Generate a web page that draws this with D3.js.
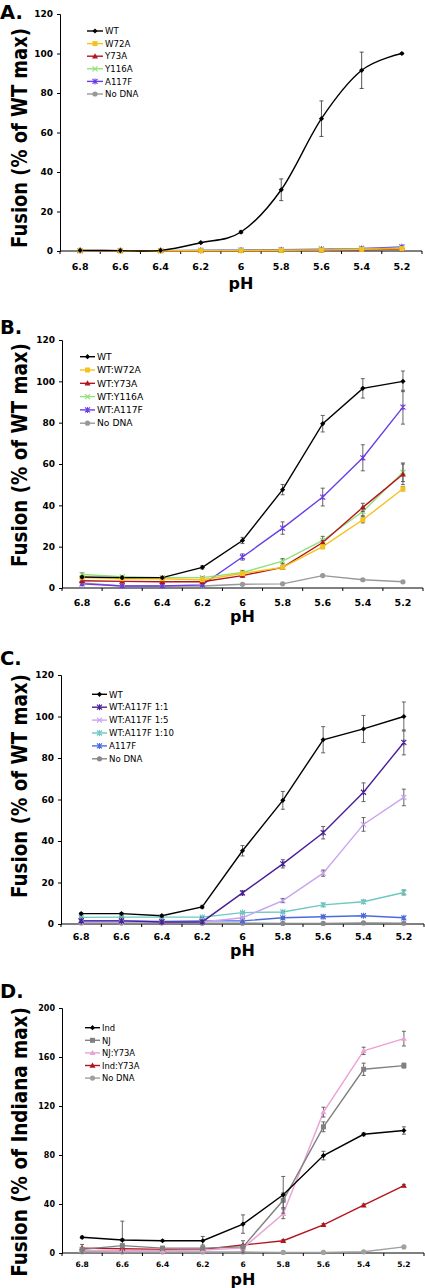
<!DOCTYPE html>
<html><head><meta charset="utf-8">
<script src="https://cdn.jsdelivr.net/npm/d3@7"></script>
<style>body{margin:0;background:#fff}svg{display:block}</style>
</head><body>
<script>
const categories = ["6.8","6.6","6.4","6.2","6","5.8","5.6","5.4","5.2"];

// Panel A
const aNames = ["WT","W72A","Y73A","Y116A","A117F","No DNA"];
const aWT    = [0.3,0.2,0.3,4.2,9.6,31,67,91.5,100];
const aW72A  = [0.2,0.1,0.1,0.2,0.2,0.3,0.5,0.8,1.2];
const aY73A  = [0.2,0.1,0.1,0.2,0.2,0.3,0.4,0.6,1.0];
const aY116A = [0.2,0.2,0.2,0.3,0.3,0.5,0.8,1.0,1.5];
const aA117F = [0.2,0.2,0.2,0.3,0.4,0.6,0.9,1.3,2.1];
const aNoDNA = [0.3,0.2,0.2,0.3,0.3,0.5,0.7,0.9,1.4];
const aWTerr = [0,0,0,0.4,0.6,5.5,9,9.2,0.4];

// Panel B
const bNames = ["WT","WT:W72A","WT:Y73A","WT:Y116A","WT:A117F","No DNA"];
const bWT    = [5.3,5,5,10,23,47.6,79.5,96.6,100];
const bW72A  = [5,4.5,4.5,4,7,10,20,33,48];
const bY73A  = [3.5,3.2,3,3,6,10,22,39,55];
const bY116A = [6.5,5.5,5,5,7.5,13,23,37,56];
const bA117F = [2,1,1,1.5,15,29,44,63,87.5];
const bNoDNA = [2.5,1,1,1,1.8,2,6,4,3];
const bWTerr    = [0.5,0.5,0.3,0.8,1.5,2.5,4,4.7,5];
const bW72Aerr  = [1,0.5,0.5,0.5,0.8,1,1,1.5,1];
const bY73Aerr  = [0.5,0.5,0.5,0.5,0.8,1,1,2,5];
const bY116Aerr = [0.8,0.5,0.5,0.5,1,1.2,2,2,4.5];
const bA117Ferr = [0.5,0.3,0.3,0.3,1.5,3,4.3,6.3,8.2];
const bNoDNAerr = [0.3,0.2,0.2,0.2,0.3,0.3,0.5,0.5,0.5];

// Panel C
const cNames = ["WT","WT:A117F 1:1","WT:A117F 1:5","WT:A117F 1:10","A117F","No DNA"];
const cWT     = [5,5,4,8.2,35.3,59.6,88.8,94,100];
const c11     = [1.5,1.5,1,1,15,29,44,63.5,87.5];
const c15     = [1,1,1,1,3,11.3,24.5,48,61];
const c110    = [3.2,3.3,3.3,3.3,5.5,5.8,9.2,10.7,15.2];
const cA117F  = [1.5,1.5,1.2,1.5,1.5,3,3.5,4,3];
const cNoDNA  = [0.5,0.5,0.5,0.4,0.4,0.3,0.3,0.5,0.4];
const cWTerr    = [0.5,0.5,0.5,0.8,2.5,4.3,6.3,6.5,7];
const c11err    = [0.3,0.3,0.3,0.3,1,2,3,4.5,6];
const c15err    = [0.3,0.3,0.3,0.3,0.5,1,1.5,3.3,4];
const c110err   = [0.3,0.3,0.3,0.3,0.5,0.5,0.8,0.8,1.2];
const cA117Ferr = [0.3,0.3,0.3,0.3,0.3,0.3,0.5,0.5,0.5];
const cNoDNAerr = [0.2,0.2,0.2,0.2,0.2,0.2,0.2,0.2,0.2];

// Panel D
const dNames = ["Ind","NJ","NJ:Y73A","Ind:Y73A","No DNA"];
const dInd    = [12.8,10.6,10,10,23.6,47.5,79.5,96.9,100];
const dNJ     = [3,6,4,4,5,43,103,150,153];
const dNJY73A = [2,2,2,2.5,4,32,115,165,175];
const dIndY73A= [4,3.5,3,3,6.5,10,23,39,55];
const dNoDNA  = [1,0.8,0.8,0.8,0.8,0.5,0.5,1,5];
const dIndErr    = [1,1,0.5,3.5,7.5,15,3.5,1.2,3];
const dNJErr     = [4,20,1,1,5,6,4,5,2];
const dNJY73AErr = [0.5,0.5,0.5,0.5,1,4,4,3,6];
const dIndY73AErr= [0.5,0.5,0.5,0.5,0.5,1,1,1,1];
const dNoDNAErr  = [0.2,0.2,0.2,0.2,0.2,0.2,0.2,0.2,0.5];

const svg = d3.select("body").append("svg").attr("width",425).attr("height",1288);
const FONT = "DejaVu Sans, Verdana, sans-serif";

function marker(g, shape, x, y, color){
  if(shape==="diamond"){
    g.append("path").attr("d",`M${x},${y-2.6}L${x+2.6},${y}L${x},${y+2.6}L${x-2.6},${y}Z`).attr("fill",color);
  } else if(shape==="square"){
    g.append("rect").attr("x",x-2.5).attr("y",y-2.5).attr("width",5).attr("height",5).attr("fill",color);
  } else if(shape==="triangle"){
    g.append("path").attr("d",`M${x},${y-3}L${x+3},${y+2.2}L${x-3},${y+2.2}Z`).attr("fill",color);
  } else if(shape==="x"){
    g.append("path").attr("d",`M${x-2.5},${y-2.5}L${x+2.5},${y+2.5}M${x-2.5},${y+2.5}L${x+2.5},${y-2.5}`).attr("stroke",color).attr("stroke-width",1.2);
  } else if(shape==="star"){
    g.append("path").attr("d",`M${x-2.5},${y-2.5}L${x+2.5},${y+2.5}M${x-2.5},${y+2.5}L${x+2.5},${y-2.5}M${x},${y-3}L${x},${y+3}`).attr("stroke",color).attr("stroke-width",1.1);
  } else if(shape==="circle"){
    g.append("circle").attr("cx",x).attr("cy",y).attr("r",2.6).attr("fill",color);
  }
}

function panel(cfg){
  const g = svg.append("g");
  const x = d3.scalePoint().domain(categories).range([cfg.left, cfg.right]).padding(0.5);
  const xb = d3.scaleBand().domain(categories).range([cfg.left, cfg.right]);
  const y = d3.scaleLinear().domain([0, cfg.ymax]).range([cfg.bottom, cfg.top]);

  // panel label
  g.append("text").attr("x",0).attr("y",cfg.labelY).attr("font-family",FONT).attr("font-weight","bold")
    .attr("font-size",19.5).text(cfg.label);
  // y axis
  const yAxis = d3.axisLeft(y).tickValues(d3.range(0,cfg.ymax+1,cfg.ystep)).tickSize(3).tickPadding(4);
  const ya = g.append("g").attr("transform",`translate(${cfg.left},0)`).call(yAxis);
  ya.selectAll("text").attr("font-family",FONT).attr("font-weight","bold").attr("font-size",cfg.tickFont).attr("fill","#000");
  ya.selectAll("path,line").attr("stroke","#000");
  // x axis: boundary ticks
  const xa = g.append("g").attr("transform",`translate(0,${cfg.bottom})`);
  xa.append("line").attr("x1",cfg.left).attr("x2",cfg.right).attr("stroke","#000");
  const bounds = categories.map(c=>xb(c)).concat([cfg.right]);
  xa.selectAll("line.t").data(bounds).enter().append("line").attr("class","t")
    .attr("x1",d=>d).attr("x2",d=>d).attr("y1",0).attr("y2",3).attr("stroke","#000");
  xa.selectAll("text").data(categories).enter().append("text")
    .attr("x",d=>x(d)).attr("y",cfg.xtickY-cfg.bottom).attr("text-anchor","middle")
    .attr("font-family",FONT).attr("font-weight","bold").attr("font-size",cfg.xtickFont).text(d=>d);
  // axis titles
  g.append("text").attr("x",(cfg.left+cfg.right)/2).attr("y",cfg.phY).attr("text-anchor","middle")
    .attr("font-family",FONT).attr("font-weight","bold").attr("font-size",16).text("pH");
  const yl = g.append("text")
    .attr("text-anchor","middle").attr("font-family",FONT).attr("font-weight","bold")
    .attr("font-size",cfg.ylabFont).text(cfg.ylab);
  const natural = yl.node().getComputedTextLength();
  const sx = cfg.ylabLen / natural;
  yl.attr("transform",`translate(${cfg.ylabX},${cfg.ylabY}) rotate(-90) scale(${sx},1)`);

  const line = d3.line().x((d,i)=>x(categories[i])).y(d=>y(d)).curve(cfg.smooth ? d3.curveCatmullRom.alpha(0) : d3.curveLinear);
  const order = cfg.series.map((s,i)=>i).reverse();
  order.forEach(i=>{
    const s = cfg.series[i];
    g.append("path").datum(s.values).attr("d",line).attr("fill","none").attr("stroke",s.color).attr("stroke-width",1.4);
  });
  order.forEach(i=>{
    const s = cfg.series[i];
    if(s.err){
      s.values.forEach((v,j)=>{
        const e = s.err[j]; if(!e) return;
        const cx = x(categories[j]);
        const y1 = y(v+e), y0 = y(Math.max(0,v-e));
        g.append("path").attr("d",`M${cx},${y0}V${y1}M${cx-2},${y0}H${cx+2}M${cx-2},${y1}H${cx+2}`)
          .attr("stroke",cfg.errColor||"#555").attr("stroke-width",0.9).attr("fill","none");
      });
    }
    s.values.forEach((v,j)=>marker(g,s.shape,x(categories[j]),y(v),s.color));
  });
  // legend
  cfg.series.forEach((s,i)=>{
    const ly = cfg.leg.y0 + i*cfg.leg.dy;
    g.append("line").attr("x1",cfg.leg.x1).attr("x2",cfg.leg.x2).attr("y1",ly).attr("y2",ly).attr("stroke",s.color).attr("stroke-width",1.4);
    marker(g,s.shape,(cfg.leg.x1+cfg.leg.x2)/2,ly,s.color);
    g.append("text").attr("x",cfg.leg.tx).attr("y",ly+3.2).attr("font-family",FONT).attr("font-size",cfg.leg.font).attr("fill","#000").text(s.name);
  });
}

panel({label:"A.", labelY:19, top:14, bottom:251, left:60, right:422, ymax:120, ystep:20, tickFont:9, xtickFont:9.5, xtickY:270, phY:289,
  ylab:"Fusion (% of WT max)", ylabX:27, ylabY:138, ylabFont:21, ylabLen:220, smooth:true, errColor:"#444",
  leg:{x1:87,x2:103,tx:105,y0:31,dy:12.6,font:8.6},
  series:[
    {name:aNames[0], values:aWT, color:"#000", shape:"diamond", err:aWTerr},
    {name:aNames[1], values:aW72A, color:"#f5c21b", shape:"square"},
    {name:aNames[2], values:aY73A, color:"#b4141e", shape:"triangle"},
    {name:aNames[3], values:aY116A, color:"#92e07a", shape:"x"},
    {name:aNames[4], values:aA117F, color:"#6a3ee6", shape:"star"},
    {name:aNames[5], values:aNoDNA, color:"#999", shape:"circle"}
  ]});

panel({label:"B.", labelY:334, top:340, bottom:588, left:62, right:423, ymax:120, ystep:20, tickFont:9, xtickFont:9.5, xtickY:606, phY:622,
  ylab:"Fusion (% of WT max)", ylabX:27, ylabY:455, ylabFont:21, ylabLen:224, smooth:false, errColor:"#555",
  leg:{x1:80,x2:95,tx:97,y0:356.7,dy:13.3,font:9.2},
  series:[
    {name:bNames[0], values:bWT, color:"#000", shape:"diamond", err:bWTerr},
    {name:bNames[1], values:bW72A, color:"#f5c21b", shape:"square", err:bW72Aerr},
    {name:bNames[2], values:bY73A, color:"#b4141e", shape:"triangle", err:bY73Aerr},
    {name:bNames[3], values:bY116A, color:"#92e07a", shape:"x", err:bY116Aerr},
    {name:bNames[4], values:bA117F, color:"#6a3ee6", shape:"star", err:bA117Ferr},
    {name:bNames[5], values:bNoDNA, color:"#999", shape:"circle", err:bNoDNAerr}
  ]});

panel({label:"C.", labelY:665, top:675, bottom:924, left:61, right:424, ymax:120, ystep:20, tickFont:9, xtickFont:9.5, xtickY:940, phY:956,
  ylab:"Fusion (% of WT max)", ylabX:27, ylabY:786, ylabFont:21, ylabLen:224, smooth:false, errColor:"#555",
  leg:{x1:92,x2:107,tx:109,y0:694.3,dy:12.9,font:8.6},
  series:[
    {name:cNames[0], values:cWT, color:"#000", shape:"diamond", err:cWTerr},
    {name:cNames[1], values:c11, color:"#4a1f9a", shape:"star", err:c11err},
    {name:cNames[2], values:c15, color:"#c7a5f2", shape:"x", err:c15err},
    {name:cNames[3], values:c110, color:"#6cc8c2", shape:"star", err:c110err},
    {name:cNames[4], values:cA117F, color:"#4a6be0", shape:"star", err:cA117Ferr},
    {name:cNames[5], values:cNoDNA, color:"#888", shape:"circle", err:cNoDNAerr}
  ]});

panel({label:"D.", labelY:998, top:1008, bottom:1253, left:62, right:424, ymax:200, ystep:40, tickFont:8, xtickFont:7.5, xtickY:1267, phY:1285,
  ylab:"Fusion (% of Indiana max)", ylabX:27, ylabY:1142, ylabFont:21, ylabLen:270, smooth:false, errColor:"#555",
  leg:{x1:85,x2:100,tx:102,y0:1027.7,dy:12.6,font:8.4},
  series:[
    {name:dNames[0], values:dInd, color:"#000", shape:"diamond", err:dIndErr},
    {name:dNames[1], values:dNJ, color:"#808080", shape:"square", err:dNJErr},
    {name:dNames[2], values:dNJY73A, color:"#eaa2d6", shape:"triangle", err:dNJY73AErr},
    {name:dNames[3], values:dIndY73A, color:"#b4141e", shape:"triangle", err:dIndY73AErr},
    {name:dNames[4], values:dNoDNA, color:"#a0a0a0", shape:"circle", err:dNoDNAErr}
  ]});
</script>
</body></html>
